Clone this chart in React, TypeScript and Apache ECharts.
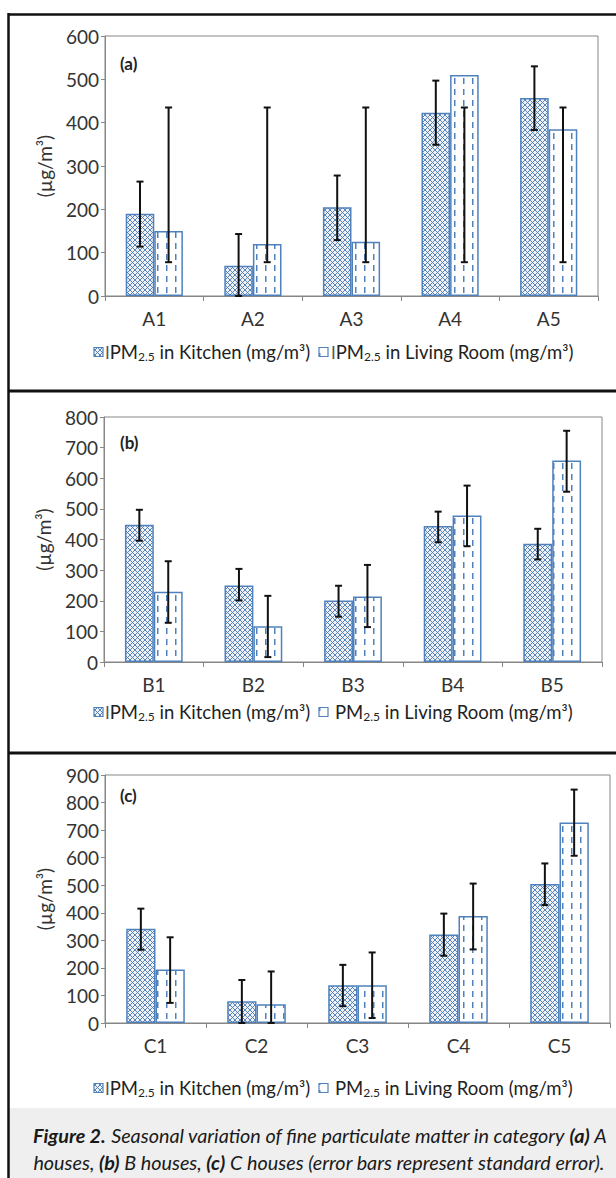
import React, { useEffect, useRef } from 'react';
import * as echarts from 'echarts';

// ---------- DATA ----------
const catsA = ['A1', 'A2', 'A3', 'A4', 'A5'];
const kitchenA = [190, 70, 205, 423, 457];
const kitchenALow = [114, 0, 129, 349, 383];
const kitchenAHigh = [264, 143, 278, 497, 530];
const livingA = [150, 120, 125, 510, 385];
const livingALow = [78, 78, 78, 78, 78];
const livingAHigh = [435, 435, 435, 435, 435];

const catsB = ['B1', 'B2', 'B3', 'B4', 'B5'];
const kitchenB = [448, 250, 201, 444, 386];
const kitchenBLow = [396, 201, 148, 391, 335];
const kitchenBHigh = [497, 304, 249, 491, 435];
const livingB = [229, 117, 214, 478, 658];
const livingBLow = [128, 16, 114, 378, 556];
const livingBHigh = [329, 216, 317, 576, 755];

const catsC = ['C1', 'C2', 'C3', 'C4', 'C5'];
const kitchenC = [342, 79, 137, 321, 504];
const kitchenCLow = [266, 0, 61, 244, 428];
const kitchenCHigh = [415, 156, 211, 397, 579];
const livingC = [194, 68, 137, 388, 728];
const livingCLow = [73, 0, 18, 267, 607];
const livingCHigh = [311, 187, 256, 506, 847];

const yMax = [600, 800, 900];
const panelLetters = ['(a)', '(b)', '(c)'];

// ---------- STYLE / LAYOUT ----------
const FONT = 'Lato, "Open Sans", sans-serif';
const BLUE = '#4f81bd';
const AXIS = '#878787';
const GAP = 0.42;

const svgUrl = (s: string) => 'data:image/svg+xml;charset=utf-8,' + encodeURIComponent(s);
const kitchenPattern: any = {
  image: svgUrl(
    '<svg xmlns="http://www.w3.org/2000/svg" width="5" height="5"><rect width="5" height="5" fill="#eef2f8"/><path d="M0 0L5 5M5 0L0 5" stroke="#4a78b2" stroke-width="0.9"/></svg>'
  ),
  repeat: 'repeat',
  imageWidth: 5,
  imageHeight: 5,
};
const livingPattern: any = {
  image: svgUrl(
    '<svg xmlns="http://www.w3.org/2000/svg" width="9" height="11"><rect width="9" height="11" fill="#ffffff"/><rect x="4" y="1" width="1.5" height="6" fill="#4f81bd"/></svg>'
  ),
  repeat: 'repeat',
  imageWidth: 9,
  imageHeight: 11,
};

const grids = [
  { left: 105, right: 18, top: 36, height: 260 },
  { left: 104, right: 14, top: 417, height: 245 },
  { left: 105, right: 6, top: 775, height: 248 },
];
const labelPos = [
  { x: 120, y: 63 },
  { x: 120, y: 442 },
  { x: 120, y: 795 },
];
const legendY = [352, 712, 1088];

function errRender(sign: number) {
  return (params: any, api: any) => {
    const ci = api.value(0);
    const lo = api.coord([ci, api.value(1)]);
    const hi = api.coord([ci, api.value(2)]);
    const band = api.size([1, 0])[0];
    const bw = (band * (1 - GAP)) / 2;
    const x = lo[0] + (sign * bw) / 2;
    const style = { stroke: '#111', lineWidth: 2 };
    return {
      type: 'group',
      children: [
        { type: 'line', shape: { x1: x, y1: lo[1], x2: x, y2: hi[1] }, style },
        { type: 'line', shape: { x1: x - 3.5, y1: hi[1], x2: x + 3.5, y2: hi[1] }, style },
        { type: 'line', shape: { x1: x - 3.5, y1: lo[1], x2: x + 3.5, y2: lo[1] }, style },
      ],
    };
  };
}

export default function App() {
  const ref = useRef<HTMLDivElement>(null);
  useEffect(() => {
    if (!ref.current) return;
    const chart = echarts.init(ref.current, null, { renderer: 'svg' });

    const panels = [
      { cats: catsA, k: kitchenA, kl: kitchenALow, kh: kitchenAHigh, l: livingA, ll: livingALow, lh: livingAHigh },
      { cats: catsB, k: kitchenB, kl: kitchenBLow, kh: kitchenBHigh, l: livingB, ll: livingBLow, lh: livingBHigh },
      { cats: catsC, k: kitchenC, kl: kitchenCLow, kh: kitchenCHigh, l: livingC, ll: livingCLow, lh: livingCHigh },
    ];

    const xAxis: any[] = [];
    const yAxis: any[] = [];
    const series: any[] = [];
    panels.forEach((p, i) => {
      xAxis.push({
        type: 'category',
        gridIndex: i,
        data: p.cats,
        axisLine: { lineStyle: { color: AXIS, width: 1 } },
        axisTick: { show: true, alignWithLabel: false, length: 5, lineStyle: { color: AXIS } },
        axisLabel: { color: '#333', fontSize: 19, fontFamily: FONT, margin: 13 },
      });
      yAxis.push({
        type: 'value',
        gridIndex: i,
        min: 0,
        max: yMax[i],
        interval: 100,
        splitLine: { show: false },
        axisLine: { show: true, lineStyle: { color: AXIS, width: 1 } },
        axisTick: { show: true, length: 4, lineStyle: { color: AXIS } },
        axisLabel: { color: '#333', fontSize: 19, fontFamily: FONT, margin: 6 },
        name: '(µg/m³)',
        nameLocation: 'middle',
        nameGap: 51,
        nameTextStyle: { color: '#333', fontSize: 19, fontFamily: FONT },
      });
      series.push(
        {
          type: 'bar',
          name: 'Kitchen',
          xAxisIndex: i,
          yAxisIndex: i,
          data: p.k,
          barGap: '0%',
          barCategoryGap: GAP * 100 + '%',
          itemStyle: { color: kitchenPattern, borderColor: BLUE, borderWidth: 1.5 },
        },
        {
          type: 'bar',
          name: 'Living',
          xAxisIndex: i,
          yAxisIndex: i,
          data: p.l,
          barGap: '0%',
          barCategoryGap: GAP * 100 + '%',
          itemStyle: { color: livingPattern, borderColor: BLUE, borderWidth: 1.5 },
        },
        {
          type: 'custom',
          xAxisIndex: i,
          yAxisIndex: i,
          z: 5,
          renderItem: errRender(-1),
          encode: { x: 0, y: [1, 2] },
          data: p.cats.map((_, j) => [j, p.kl[j], p.kh[j]]),
        },
        {
          type: 'custom',
          xAxisIndex: i,
          yAxisIndex: i,
          z: 5,
          renderItem: errRender(1),
          encode: { x: 0, y: [1, 2] },
          data: p.cats.map((_, j) => [j, p.ll[j], p.lh[j]]),
        }
      );
    });

    const legendRich = {
      i: { fontSize: 17, fontFamily: FONT, fill: '#555' },
      t: { fontSize: 18.5, fontFamily: FONT, fill: '#222' },
      s: { fontSize: 12, fontFamily: FONT, fill: '#222', padding: [8, 0, 0, 0] },
    };

    const graphic: any[] = [
      { type: 'rect', shape: { x: 9, y: 1108, width: 607, height: 70 }, style: { fill: '#efefef' }, silent: true },
      { type: 'line', shape: { x1: 8, y1: 14.5, x2: 616, y2: 14.5 }, style: { stroke: '#111', lineWidth: 2.5 } },
      { type: 'line', shape: { x1: 8.5, y1: 13, x2: 8.5, y2: 1178 }, style: { stroke: '#111', lineWidth: 2.5 } },
      { type: 'line', shape: { x1: 8, y1: 391, x2: 616, y2: 391 }, style: { stroke: '#111', lineWidth: 3 } },
      { type: 'line', shape: { x1: 8, y1: 753, x2: 616, y2: 753 }, style: { stroke: '#111', lineWidth: 3 } },
    ];

    for (let i = 0; i < 3; i++) {
      graphic.push({
        type: 'text',
        x: labelPos[i].x,
        y: labelPos[i].y,
        style: { text: panelLetters[i], font: 'bold 17px ' + FONT, fill: '#222', verticalAlign: 'middle' },
      });
      const ly = legendY[i];
      graphic.push(
        { type: 'rect', shape: { x: 94, y: ly - 4.5, width: 9, height: 9 }, style: { fill: kitchenPattern, stroke: BLUE, lineWidth: 1.2 } },
        {
          type: 'text',
          x: 105,
          y: ly,
          style: {
            text: '{i|I}{t|PM}{s|2.5}{t| in Kitchen (mg/m³)}',
            rich: legendRich,
            verticalAlign: 'middle',
          },
        },
        { type: 'rect', shape: { x: 319, y: ly - 4.5, width: 9, height: 9 }, style: { fill: livingPattern, stroke: BLUE, lineWidth: 1.2 } },
        {
          type: 'text',
          x: i === 0 ? 331 : 335,
          y: ly,
          style: {
            text: (i === 0 ? '{i|I}' : '') + '{t|PM}{s|2.5}{t| in Living Room (mg/m³)}',
            rich: legendRich,
            verticalAlign: 'middle',
          },
        }
      );
    }

    const capRich = {
      b: { fontSize: 19.8, fontFamily: FONT, fontStyle: 'italic', fontWeight: 'bold', fill: '#1a1a1a' },
      n: { fontSize: 19.8, fontFamily: FONT, fontStyle: 'italic', fill: '#1a1a1a' },
    };
    graphic.push(
      {
        type: 'text',
        x: 320,
        y: 1135,
        style: {
          text: '{b|Figure 2.}{n| Seasonal variation of fine particulate matter in category }{b|(a)}{n| A}',
          rich: capRich,
          align: 'center',
          verticalAlign: 'middle',
        },
      },
      {
        type: 'text',
        x: 319,
        y: 1162,
        style: {
          text: '{n|houses, }{b|(b)}{n| B houses, }{b|(c)}{n| C houses (error bars represent standard error).}',
          rich: capRich,
          align: 'center',
          verticalAlign: 'middle',
        },
      }
    );

    chart.setOption({
      animation: false,
      backgroundColor: '#ffffff',
      grid: grids.map((g) => ({ ...g, show: true, borderColor: AXIS, borderWidth: 1, backgroundColor: 'transparent' })),
      xAxis,
      yAxis,
      series,
      graphic,
    });
    return () => chart.dispose();
  }, []);

  return <div ref={ref} style={{ position: 'absolute', left: 0, top: 0, width: 616, height: 1178 }} />;
}
